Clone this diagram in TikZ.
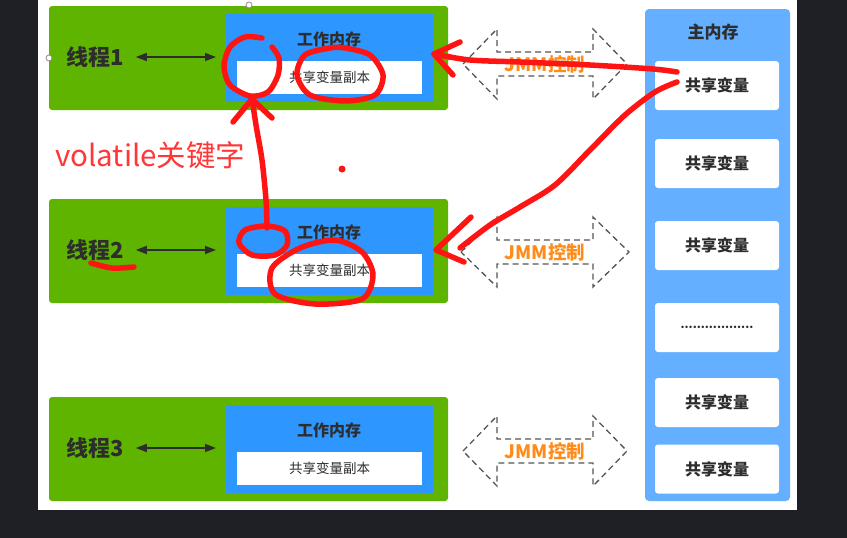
\documentclass[tikz,border=0pt]{standalone}
\usepackage{fontspec}
\setmainfont{Noto Sans CJK SC}
\usetikzlibrary{arrows.meta}
\definecolor{bgdark}{RGB}{30,32,38}
\definecolor{tgreen}{RGB}{95,180,0}
\definecolor{wblue}{RGB}{45,150,255}
\definecolor{mblue}{RGB}{100,175,255}
\definecolor{txtdark}{RGB}{45,45,45}
\definecolor{jmmorange}{RGB}{255,140,26}
\definecolor{jmmgray}{RGB}{85,85,85}
\definecolor{penred}{RGB}{255,20,20}
\definecolor{textred}{RGB}{255,55,55}
\definecolor{handlegray}{RGB}{160,130,140}
\tikzset{
  gbox/.style={fill=tgreen, rounded corners=3pt, inner sep=0pt, outer sep=0pt, anchor=north west, minimum width=399pt, minimum height=104pt},
  wbox/.style={fill=wblue, inner sep=0pt, outer sep=0pt, anchor=north west, minimum width=207pt, minimum height=88pt},
  cbox/.style={fill=white, inner sep=0pt, outer sep=0pt, minimum width=185pt, minimum height=33pt, text=txtdark, font=\fontsize{13.5}{13.5}\selectfont},
  wtitle/.style={text=txtdark, font=\bfseries\fontsize{16}{16}\selectfont, inner sep=0pt},
  tlabel/.style={text=txtdark, font=\bfseries\fontsize{22}{22}\selectfont, inner sep=0pt, anchor=west},
  biarrow/.style={draw=txtdark, line width=1.5pt, {Triangle[length=11pt,width=8pt]}-{Triangle[length=11pt,width=8pt]}},
  mmbox/.style={fill=mblue, rounded corners=4pt, inner sep=0pt, outer sep=0pt, anchor=north west, minimum width=145pt, minimum height=492pt},
  vbox/.style={fill=white, rounded corners=3pt, inner sep=0pt, minimum width=124pt, minimum height=49pt, text=txtdark, font=\bfseries\fontsize{16}{16}\selectfont},
  jmm/.style={draw=jmmgray, line width=1.3pt, dash pattern=on 6pt off 4pt},
  jmmtext/.style={text=jmmorange, font=\bfseries\fontsize{18.5}{18.5}\selectfont, inner sep=0pt},
  redpen/.style={draw=penred, line width=5.5pt, line cap=round, line join=round},
  handle/.style={circle, draw=handlegray, fill=white, line width=0.8pt, minimum size=6pt, inner sep=0pt}
}
\begin{document}
\begin{tikzpicture}[x=1pt,y=-1pt]
\fill[bgdark] (0,0) rectangle (847,538);
\useasboundingbox (0,0) rectangle (847,538);
\fill[white] (38,0) rectangle (797,510);

% threads
\foreach \n/\ty in {1/6,2/199,3/397}{
  \node[gbox] (g\n) at (49,\ty) {};
  \node[wbox] (w\n) at (226,\ty+8) {};
  \node[wtitle] (wt\n) at (329,\ty+33) {工作内存};
  \node[cbox] (c\n) at (329.5,\ty+71.5) {共享变量副本};
  \node[tlabel] (l\n) at (66,\ty+51) {线程\n};
  \draw[biarrow, shorten <=12pt, shorten >=10pt] (l\n.east) -- (l\n.east -| w\n.west);
}

% main memory
\node[mmbox] (mm) at (645,9) {};
\node[wtitle, font=\bfseries\fontsize{17}{17}\selectfont] (mmt) at (713,32) {主内存};
\node[vbox] (v1) at (717,85.5) {共享变量};
\node[vbox] (v2) at (717,163.5) {共享变量};
\node[vbox] (v3) at (717,245.5) {共享变量};
\node[vbox, font=\bfseries\fontsize{11.5}{11.5}\selectfont] (v4) at (717,327.5) {..................};
\node[vbox] (v5) at (717,402.5) {共享变量};
\node[vbox] (v6) at (717,469) {共享变量};

% JMM arrows
\foreach \n/\cy/\hw in {1/64/82,2/252/84,3/451/82}{
  \begin{scope}[shift={(545,\cy)}]
    \draw[jmm] (-\hw,0) -- (-48,-35) -- (-48,-12) -- (48,-12) -- (48,-35) -- (\hw,0) -- (48,35) -- (48,12) -- (-48,12) -- (-48,35) -- cycle;
    \node[jmmtext] (j\n) at (0,0) {JMM控制};
  \end{scope}
}

% selection handles
\node[handle] (h1) at (249,5) {};
\node[handle] (h2) at (49,58) {};
\node[handle] (h3) at (449,57) {};

% red annotations
\node[anchor=west, text=textred, font=\fontsize{29.5}{29.5}\selectfont, inner sep=0pt] (vol) at (55,155) {volatile关键字};
\fill[penred] (342,169) circle (3.5pt);

\draw[redpen] plot[smooth] coordinates {(262,38) (245,37) (230,47) (224,66) (230,85) (250,96) (268,92) (278,75) (279,58) (272,47)};
\draw[redpen] plot[smooth cycle] coordinates {(330,48) (305,55) (297,75) (310,95) (345,101) (375,95) (383,75) (370,55) (345,48)};
\draw[redpen] plot[smooth cycle] coordinates {(267,226) (245,230) (239,243) (252,255) (275,255) (287,245) (285,231)};
\draw[redpen] plot[smooth cycle] coordinates {(300,248) (335,240) (362,252) (373,275) (362,299) (315,304) (275,294) (272,268)};
\draw[redpen] plot[smooth] coordinates {(267,228) (266,200) (262,160) (256,125) (252,98)};
\draw[redpen] (233,122) -- (252,99) -- (272,118);
\draw[redpen] plot[smooth] coordinates {(91,263) (112,268) (134,267)};

\coordinate (r1s) at (677,72);
\coordinate (r1e) at (434,54);
\draw[redpen] plot[smooth] coordinates {(r1s) (653,69) (590,65) (520,62) (470,60) (r1e)};
\draw[redpen] (460,42) -- (r1e) -- (453,75);

\coordinate (r2s) at (677,82);
\coordinate (r2e) at (436,250);
\draw[redpen] plot[smooth] coordinates {(r2s) (655,92) (625,115) (590,150) (555,185) (520,207) (490,225) (460,248)};
\draw[redpen] (471,217) -- (r2e) -- (464,262);
\end{tikzpicture}
\end{document}
